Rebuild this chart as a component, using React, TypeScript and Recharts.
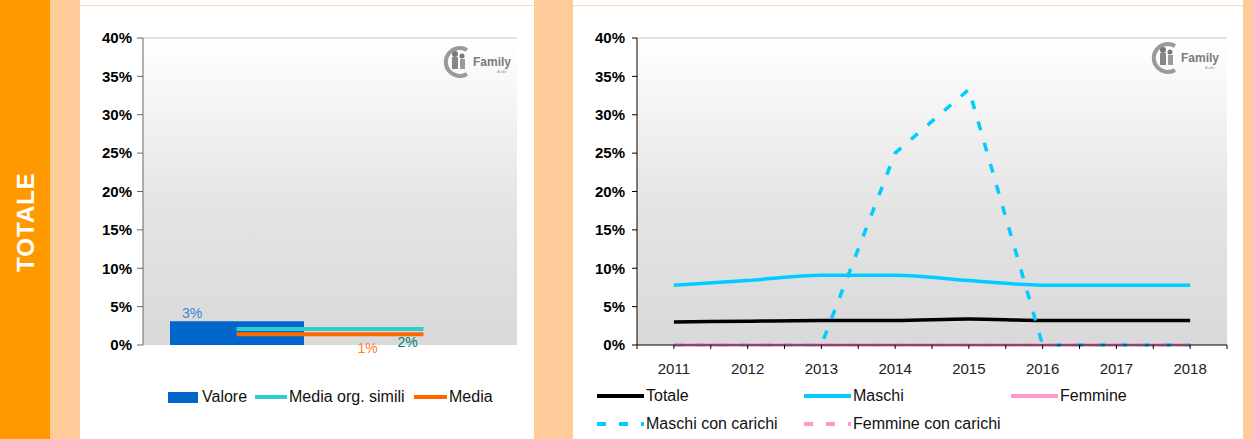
import React from 'react';
import {
  ComposedChart, LineChart, Bar, Line, XAxis, YAxis, CartesianGrid, ReferenceLine, LabelList,
} from 'recharts';

// left panel: single value vs averages
const leftCats = ['c1', 'c2'];
const valore = [3.1, null];
const mediaSimili = [2.1, 2.1];
const media = [1.4, 1.4];

// right panel: yearly trend
const years = [2011, 2012, 2013, 2014, 2015, 2016, 2017, 2018];
const totale = [3.0, 3.1, 3.2, 3.2, 3.4, 3.2, 3.2, 3.2];
const maschi = [7.8, 8.4, 9.1, 9.1, 8.4, 7.8, 7.8, 7.8];
const femmine = [0, 0, 0, 0, 0, 0, 0, 0];
const maschiCarichi = [0, 0, 0, 25, 33.3, 0, 0, 0];
const femmineCarichi = [0, 0, 0, 0, 0, 0, 0, 0];

const yTicks = [0, 5, 10, 15, 20, 25, 30, 35, 40];
const xTicks = [2010.5, 2011, 2011.5, 2012, 2012.5, 2013, 2013.5, 2014, 2014.5, 2015, 2015.5, 2016, 2016.5, 2017, 2017.5, 2018, 2018.5];

const FONT = '"Liberation Sans", Arial, sans-serif';
const BLUE = '#0066CC';
const TEAL = '#33CCCC';
const ORANGE = '#FF6600';
const CYAN = '#00CCFF';
const PINK = '#FF99CC';

const leftData = leftCats.map((c, i) => ({ cat: c, valore: valore[i], simili: mediaSimili[i], media: media[i] }));
const rightData = years.map((y, i) => ({
  year: y,
  totale: totale[i],
  maschi: maschi[i],
  femmine: femmine[i],
  maschiCarichi: maschiCarichi[i],
  femmineCarichi: femmineCarichi[i],
}));

const pct = (v: number) => `${v}%`;

const Gradient = ({ id }: { id: string }) => (
  <defs>
    <linearGradient id={id} x1="0" y1="0" x2="0" y2="1">
      <stop offset="0%" stopColor="#ffffff" />
      <stop offset="55%" stopColor="#e4e4e4" />
      <stop offset="100%" stopColor="#d9d9d9" />
    </linearGradient>
  </defs>
);

const Logo = ({ left, top }: { left: number; top: number }) => (
  <svg style={{ position: 'absolute', left, top }} width={80} height={34}>
    <path d="M 30 6 A 14 14 0 1 0 30 30" fill="none" stroke="#9a9a9a" strokeWidth={4} />
    <circle cx={18} cy={10} r={3} fill="#777" />
    <rect x={15} y={13} width={6} height={12} fill="#888" />
    <circle cx={25} cy={12} r={2.5} fill="#777" />
    <rect x={23} y={15} width={5} height={10} fill="#999" />
    <text x={36} y={22} fontSize={12} fontWeight={700} fill="#7a7a7a" fontFamily={FONT}>Family</text>
    <text x={60} y={29} fontSize={4} fill="#999" fontFamily={FONT}>Audit</text>
  </svg>
);

const LegendLine = ({ left, top, color, dashed, text, width = 47, thick = 4 }: any) => (
  <>
    <svg style={{ position: 'absolute', left, top: top - 4 }} width={width} height={8}>
      <line x1={0} y1={4} x2={width} y2={4} stroke={color} strokeWidth={thick} strokeDasharray={dashed ? '9 13' : undefined} />
    </svg>
    <div style={{ position: 'absolute', left: left + width + 2, top: top - 10, lineHeight: '20px', fontSize: 16, color: '#111', whiteSpace: 'nowrap' }}>{text}</div>
  </>
);

const barLabel = (props: any) => {
  const { x, y, value } = props;
  if (value == null) return null;
  return (
    <text x={x + 22} y={y - 3} textAnchor="middle" fontSize={14} fill="#3385D6" fontFamily={FONT}>{Math.round(value)}%</text>
  );
};

const endLabel = (color: string, dx: number, dy: number) => (props: any) => {
  const { x, y, value, index } = props;
  if (index !== 1 || value == null) return null;
  return (
    <text x={x + dx} y={y + dy} textAnchor="middle" fontSize={14} fill={color} fontFamily={FONT}>{Math.round(value)}%</text>
  );
};

export default function App() {
  return (
    <div style={{ position: 'absolute', left: 0, top: 0, width: 1252, height: 439, background: '#fff', overflow: 'hidden', fontFamily: FONT }}>
      <div style={{ position: 'absolute', left: 0, top: 0, width: 50, height: 439, background: '#FF9900' }} />
      <div style={{ position: 'absolute', left: 50, top: 0, width: 30, height: 439, background: '#FFCC99' }} />
      <div style={{ position: 'absolute', left: 534, top: 0, width: 39, height: 439, background: '#FFCC99' }} />
      <div style={{ position: 'absolute', left: 1243, top: 0, width: 9, height: 439, background: '#FFCC99' }} />
      <div style={{ position: 'absolute', left: 80, top: 5, width: 454, height: 1, background: '#FFD9B3' }} />
      <div style={{ position: 'absolute', left: 573, top: 5, width: 670, height: 1, background: '#FFD9B3' }} />
      <div style={{
        position: 'absolute', left: 26, top: 222, transform: 'translate(-50%, -50%) rotate(-90deg)',
        color: '#fff', fontWeight: 700, fontSize: 24, letterSpacing: 1, whiteSpace: 'nowrap',
      }}>TOTALE</div>

      {/* left chart */}
      <div style={{ position: 'absolute', left: 80, top: 6 }}>
        <ComposedChart width={454} height={433} data={leftData} margin={{ top: 32, right: 17, bottom: 94, left: 0 }}>
          <Gradient id="bgL" />
          <CartesianGrid fill="url(#bgL)" horizontal={false} vertical={false} />
          <XAxis dataKey="cat" tick={false} tickLine={false} height={0} axisLine={{ stroke: '#000', strokeWidth: 1.5 }} />
          <YAxis domain={[0, 40]} ticks={yTicks} tickFormatter={pct} width={63} tickSize={6} tickMargin={5}
            stroke="#666" tick={{ fontSize: 15, fontWeight: 700, fill: '#000', fontFamily: FONT }} />
          <YAxis yAxisId="r" orientation="right" domain={[0, 40]} width={0} tick={false} tickLine={false} axisLine={{ stroke: '#999' }} />
          <ReferenceLine y={40} stroke="#c8c8c8" />
          <Bar dataKey="valore" fill={BLUE} barSize={134} isAnimationActive={false}>
            <LabelList dataKey="valore" content={barLabel} />
          </Bar>
          <Line dataKey="simili" stroke={TEAL} strokeWidth={4} dot={false} type="linear" isAnimationActive={false}>
            <LabelList dataKey="simili" content={endLabel('#008080', -16, 18)} />
          </Line>
          <Line dataKey="media" stroke={ORANGE} strokeWidth={4} dot={false} type="linear" isAnimationActive={false}>
            <LabelList dataKey="media" content={endLabel('#FF8033', -56, 19)} />
          </Line>
        </ComposedChart>
      </div>
      <Logo left={437} top={44} />

      {/* left legend */}
      <div style={{ position: 'absolute', left: 168, top: 392, width: 30, height: 11, background: BLUE }} />
      <div style={{ position: 'absolute', left: 202, top: 387, lineHeight: '20px', fontSize: 16, color: '#111' }}>Valore</div>
      <LegendLine left={255} top={397} color={TEAL} text="Media org. simili" width={32} />
      <LegendLine left={414} top={397} color={ORANGE} text="Media" width={33} />

      {/* right chart */}
      <div style={{ position: 'absolute', left: 573, top: 6 }}>
        <LineChart width={670} height={433} data={rightData} margin={{ top: 32, right: 16, bottom: 64, left: 0 }}>
          <Gradient id="bgR" />
          <CartesianGrid fill="url(#bgR)" horizontal={false} vertical={false} />
          <XAxis dataKey="year" type="number" domain={[2010.5, 2018.5]} ticks={xTicks} interval={0} height={30}
            tickFormatter={(v: number) => (Number.isInteger(v) ? String(v) : '')}
            tickSize={4} tickMargin={14} stroke="#000"
            tick={{ fontSize: 15, fill: '#222', fontFamily: FONT }} />
          <YAxis domain={[0, 40]} ticks={yTicks} tickFormatter={pct} width={64} tickSize={5} tickMargin={7}
            stroke="#000" tick={{ fontSize: 15, fontWeight: 700, fill: '#000', fontFamily: FONT }} />
          <YAxis yAxisId="r" orientation="right" domain={[0, 40]} width={0} tick={false} tickLine={false} axisLine={{ stroke: '#c0c0c0' }} />
          <ReferenceLine y={40} stroke="#c8c8c8" />
          <Line dataKey="totale" stroke="#000" strokeWidth={3.5} dot={false} type="monotone" isAnimationActive={false} />
          <Line dataKey="maschi" stroke={CYAN} strokeWidth={3.5} dot={false} type="monotone" isAnimationActive={false} />
          <Line dataKey="femmine" stroke={PINK} strokeWidth={3.5} dot={false} type="monotone" isAnimationActive={false} />
          <Line dataKey="maschiCarichi" stroke={CYAN} strokeWidth={3.5} strokeDasharray="9 13" dot={false} type="linear" isAnimationActive={false} />
          <Line dataKey="femmineCarichi" stroke={PINK} strokeWidth={3.5} strokeDasharray="9 13" dot={false} type="linear" isAnimationActive={false} />
        </LineChart>
      </div>
      <Logo left={1145} top={40} />

      {/* right legend */}
      <LegendLine left={597} top={396} color="#000" text="Totale" />
      <LegendLine left={804} top={396} color={CYAN} text="Maschi" />
      <LegendLine left={1011} top={396} color={PINK} text="Femmine" />
      <LegendLine left={597} top={424} color={CYAN} dashed text="Maschi con carichi" />
      <LegendLine left={804} top={424} color={PINK} dashed text="Femmine con carichi" />
    </div>
  );
}
